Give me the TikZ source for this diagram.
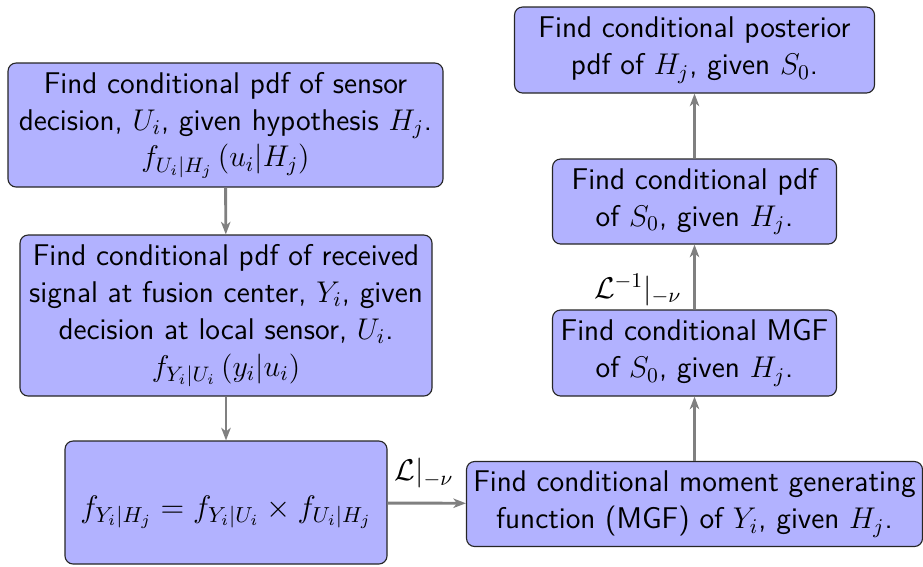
\RequirePackage{fix-cm}
\documentclass[tikz,border=0pt]{standalone}
\usetikzlibrary{arrows.meta}
\renewcommand{\familydefault}{\sfdefault}
\begin{document}
\begin{tikzpicture}[x=0.444pt, y=-0.444pt,
  blk/.style={draw=black!85, line width=0.5pt, rounded corners=3.6pt,
    fill=blue!30, align=center, inner sep=0pt,
    font=\sffamily\fontsize{13.3}{16.4}\selectfont},
  flow/.style={draw=gray, line width=1.3pt,
    -{Stealth[length=5.6pt, width=4.2pt, inset=1.6pt]}},
  lbl/.style={inner sep=0pt, font=\fontsize{13.3}{15}\selectfont}]
\useasboundingbox (0,0) rectangle (923,566);

% left column
\node[blk, minimum width=435*0.444pt, minimum height=124*0.444pt] (A) at (225.5,125)
  {Find conditional pdf of sensor\\
   decision, $U_i$, given hypothesis $H_j$.\\
   $f_{U_i|H_j}\left(u_i|H_j\right)$};
\node[blk, minimum width=412*0.444pt, minimum height=161*0.444pt] (B) at (226,315.5)
  {Find conditional pdf of received\\
   signal at fusion center, $Y_i$, given\\
   decision at local sensor, $U_i$.\\
   $f_{Y_i|U_i}\left(y_i|u_i\right)$};
% formula box: taller text height sets the formula a little below the middle
\node[blk, font=\fontsize{13.8}{16.4}\selectfont, text height=17pt, text depth=4pt,
  minimum width=322*0.444pt, minimum height=123*0.444pt] (C) at (226,502.5)
  {$f_{Y_i|H_j} = f_{Y_i|U_i} \times f_{U_i|H_j}$};

% right column
\node[blk, minimum width=456*0.444pt, minimum height=85*0.444pt] (D) at (694.5,504)
  {Find conditional moment generating\\
   function (MGF) of $Y_i$, given $H_j$.};
\node[blk, minimum width=284*0.444pt, minimum height=86*0.444pt] (E) at (694.5,353)
  {Find conditional MGF\\ of $S_0$, given $H_j$.};
\node[blk, minimum width=284*0.444pt, minimum height=85*0.444pt] (F) at (694.5,201.5)
  {Find conditional pdf\\ of $S_0$, given $H_j$.};
\node[blk, minimum width=360*0.444pt, minimum height=86*0.444pt] (G) at (694.5,50)
  {Find conditional posterior\\ pdf of $H_j$, given $S_0$.};

% connectors
\draw[flow] (A) -- (B);
\draw[flow] (B) -- (C);
\draw[flow] (C) -- node[lbl, pos=0, anchor=south west, xshift=2.5pt, yshift=6pt]
  {$\mathcal{L}|_{-\nu}$} (D);
\draw[flow] (D) -- (E);
\draw[flow] (E) -- node[lbl, pos=0, anchor=south east, xshift=-5.1pt, yshift=0.9pt]
  {$\mathcal{L}^{-1}|_{-\nu}$} (F);
\draw[flow] (F) -- (G);
\end{tikzpicture}
\end{document}
